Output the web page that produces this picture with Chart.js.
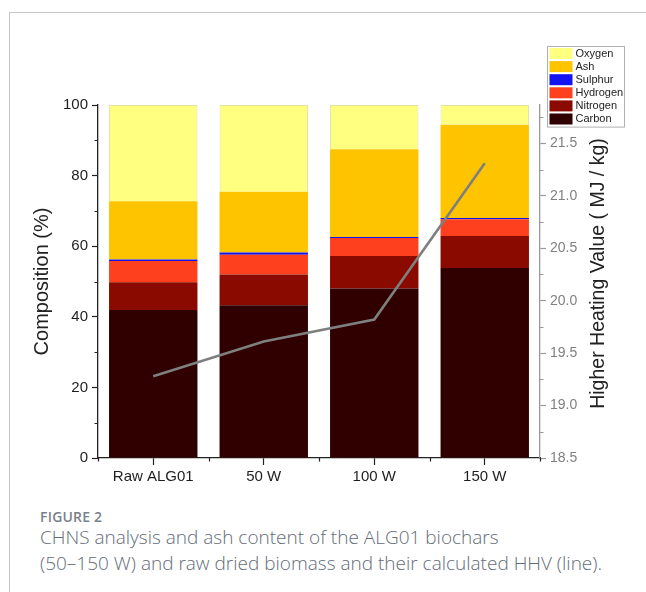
<!DOCTYPE html>
<html>
<head>
<meta charset="utf-8">
<script src="https://cdn.jsdelivr.net/npm/chart.js@4.4.0/dist/chart.umd.min.js"></script>
<style>
  html, body { margin: 0; padding: 0; background: #fff; }
  body { width: 646px; height: 592px; position: relative; overflow: hidden; }
  #frameTop { position: absolute; left: 9px; top: 12px; width: 637px; height: 0; border-top: 1px solid #c6c6c6; }
  #frameLeft { position: absolute; left: 9px; top: 12px; width: 0; height: 580px; border-left: 1px solid #c6c6c6; }
  #chartBox { position: absolute; left: 0; top: 0; width: 646px; height: 500px; }
  #figLabel { position: absolute; left: 40px; top: 507px; font-family: "Open Sans", "Noto Sans", sans-serif; font-size: 14px; font-weight: 600; color: #7a8089; letter-spacing: 0.2px; }
  #figText { position: absolute; left: 40px; top: 524px; font-family: "Open Sans", "Noto Sans", sans-serif; font-size: 19px; font-weight: 300; line-height: 26px; color: #646c77; }
</style>
</head>
<body>
<div id="frameTop"></div>
<div id="frameLeft"></div>
<div id="chartBox"><canvas id="c" width="646" height="500"></canvas></div>
<div id="figLabel">FIGURE 2</div>
<div id="figText">CHNS analysis and ash content of the ALG01 biochars<br>(50–150 W) and raw dried biomass and their calculated HHV (line).</div>
<script>
// Samples
const categories = ['Raw ALG01', '50 W', '100 W', '150 W'];

// Elemental composition (wt %), stacked bottom to top
const carbon   = [41.9, 43.3, 48.0, 53.8];
const nitrogen = [7.9, 8.7, 9.2, 9.1];
const hydrogen = [6.0, 5.6, 5.1, 4.7];
const sulphur  = [0.4, 0.6, 0.3, 0.4];
const ash      = [16.5, 17.2, 24.9, 26.4];
const oxygen   = [27.3, 24.6, 12.5, 5.6];

// Calculated higher heating value (MJ/kg)
const hhv = [19.28, 19.61, 19.82, 21.31];

// Axis ticks
const compTicks = [0, 20, 40, 60, 80, 100];
const compMinor = [10, 30, 50, 70, 90];
const hhvTicks = [18.5, 19.0, 19.5, 20.0, 20.5, 21.0, 21.5];
const hhvMinor = [18.75, 19.25, 19.75, 20.25, 20.75, 21.25, 21.75];

const hhvTitle = 'Higher Heating Value ( MJ / kg)';
const FONT = '"Liberation Sans", Arial, sans-serif';

function barSet(label, data, color, extra) {
  return Object.assign({
    type: 'bar', label, data, backgroundColor: color, borderWidth: 0,
    yAxisID: 'y', order: 1, stack: 'comp'
  }, extra || {});
}

// Minor tick marks, the right-hand axis title (reading upwards) and the boxed legend
const decorations = {
  id: 'decorations',
  afterDraw(chart) {
    const ctx = chart.ctx;
    const x = chart.scales.x, y = chart.scales.y, y1 = chart.scales.y1;
    ctx.save();
    ctx.lineWidth = 1.2;
    // left axis minor ticks
    ctx.strokeStyle = '#222';
    ctx.beginPath();
    compMinor.forEach(v => {
      const p = Math.round(y.getPixelForValue(v)) + 0.5;
      ctx.moveTo(y.right - 3.5, p); ctx.lineTo(y.right, p);
    });
    // x axis minor ticks at category boundaries
    const n = categories.length;
    for (let i = 0; i <= n; i++) {
      const px = Math.round(x.getPixelForValue(i - 0.5)) + 0.5;
      ctx.moveTo(px, x.top); ctx.lineTo(px, x.top + 3.5);
    }
    ctx.stroke();
    // right axis minor ticks
    ctx.strokeStyle = '#999';
    ctx.beginPath();
    hhvMinor.forEach(v => {
      if (v > y1.max) return;
      const p = Math.round(y1.getPixelForValue(v)) + 0.5;
      ctx.moveTo(y1.left, p); ctx.lineTo(y1.left + 3.5, p);
    });
    ctx.stroke();

    // right axis title, rotated to read bottom-to-top
    ctx.save();
    ctx.translate(y1.right - 47, (y1.top + y1.bottom) / 2 - 8);
    ctx.rotate(-Math.PI / 2);
    ctx.font = '19.5px ' + FONT;
    ctx.fillStyle = '#222';
    ctx.textAlign = 'center';
    ctx.textBaseline = 'middle';
    ctx.fillText(hhvTitle, 0, 0);
    ctx.restore();

    // legend box (top-right)
    const items = chart.data.datasets.filter(d => d.type === 'bar').slice().reverse();
    const bx = 547.5, by = 46.5, bw = 77, rowH = 13.1;
    const bh = items.length * rowH + 2;
    ctx.fillStyle = '#fff';
    ctx.fillRect(bx, by, bw, bh);
    ctx.strokeStyle = '#b0b0b0';
    ctx.lineWidth = 1;
    ctx.strokeRect(bx, by, bw, bh);
    ctx.font = '11px ' + FONT;
    ctx.textBaseline = 'middle';
    ctx.textAlign = 'left';
    items.forEach((d, i) => {
      const ry = by + 1.5 + i * rowH;
      ctx.fillStyle = d.backgroundColor;
      ctx.fillRect(bx + 2, ry, 23, 11);
      ctx.fillStyle = '#222';
      ctx.fillText(d.label, bx + 28, ry + 5.8);
    });
    ctx.restore();
  }
};

new Chart(document.getElementById('c'), {
  data: {
    labels: categories,
    datasets: [
      {
        type: 'line', label: 'HHV', data: hhv, yAxisID: 'y1', order: 0,
        borderColor: '#7f7f7f', borderWidth: 2.6, pointRadius: 0, tension: 0, fill: false
      },
      barSet('Carbon', carbon, '#300000'),
      barSet('Nitrogen', nitrogen, '#8a0a00'),
      barSet('Hydrogen', hydrogen, '#ff401e'),
      barSet('Sulphur', sulphur, '#1414f0'),
      barSet('Ash', ash, '#ffc400'),
      barSet('Oxygen', oxygen, '#ffff80', { borderWidth: 1, borderColor: '#e2e29a' })
    ]
  },
  options: {
    responsive: false,
    devicePixelRatio: 1,
    animation: false,
    layout: { padding: { top: 105, left: 0, right: 0, bottom: 0 } },
    datasets: { bar: { barPercentage: 0.8, categoryPercentage: 1.0 } },
    plugins: { legend: { display: false }, tooltip: { enabled: false } },
    scales: {
      x: {
        stacked: true,
        afterFit(s) { s.height = 42; },
        grid: { display: true, drawOnChartArea: false, drawTicks: true, tickLength: 7, offset: false, color: '#222', tickColor: '#222', tickWidth: 1.2 },
        border: { display: true, color: '#222', width: 1.3 },
        ticks: { color: '#1e1e1e', font: { family: FONT, size: 15 }, padding: 3, maxRotation: 0 }
      },
      y: {
        stacked: true,
        position: 'left',
        min: 0, max: 100,
        afterFit(s) { s.width = 98; },
        afterBuildTicks(s) { s.ticks = compTicks.map(v => ({ value: v })); },
        grid: { display: true, drawOnChartArea: false, drawTicks: true, tickLength: 6, color: '#222', tickColor: '#222', tickWidth: 1.2 },
        border: { display: true, color: '#222', width: 1.3 },
        ticks: { color: '#1e1e1e', font: { family: FONT, size: 15 }, padding: 4 },
        title: { display: true, text: 'Composition (%)', color: '#222', font: { family: FONT, size: 20 }, padding: { top: 30, bottom: 0 } }
      },
      y1: {
        position: 'right',
        stacked: false,
        min: 18.5, max: 21.865,
        afterFit(s) { s.width = 106; },
        afterBuildTicks(s) { s.ticks = hhvTicks.map(v => ({ value: v })); },
        grid: { display: true, drawOnChartArea: false, drawTicks: true, tickLength: 6, color: '#999', tickColor: '#999', tickWidth: 1.2 },
        border: { display: true, color: '#999', width: 1.3 },
        ticks: { color: '#808080', font: { family: FONT, size: 14 }, padding: 4, callback: v => Number(v).toFixed(1) },
        title: { display: false }
      }
    }
  },
  plugins: [decorations]
});
</script>
</body>
</html>
